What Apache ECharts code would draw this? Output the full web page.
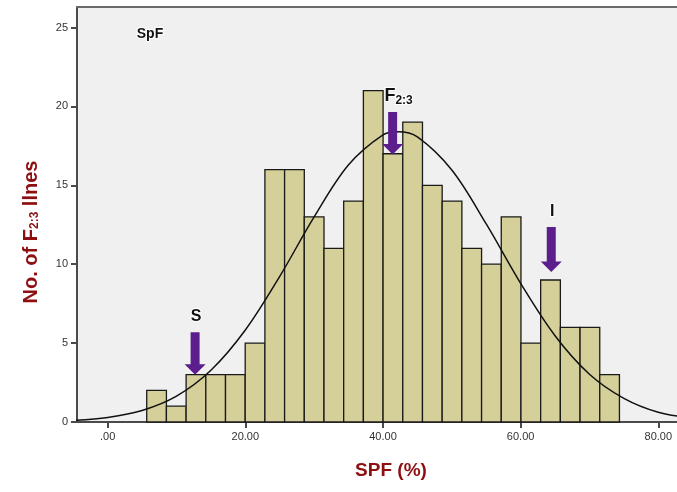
<!DOCTYPE html>
<html>
<head>
<meta charset="utf-8">
<script src="https://cdn.jsdelivr.net/npm/echarts@6/dist/echarts.min.js"></script>
<style>
  html, body { margin: 0; padding: 0; background: #fff; }
  #chart { width: 677px; height: 492px; }
</style>
</head>
<body>
<div id="chart"></div>
<script>
// histogram bins (SPF %)
const binStart = 5.67;
const binWidth = 2.862;
const counts = [2, 1, 3, 3, 3, 5, 16, 16, 13, 11, 14, 21, 17, 19, 15, 14, 11, 10, 13, 5, 9, 6, 6, 3];

// normal curve
const curveX = [-5, 0, 5, 10, 15, 20, 25, 30, 35, 40, 42.2, 45, 50, 55, 60, 65, 70, 75, 80, 85];
const curveY = [0.1, 0.29, 0.73, 1.64, 3.28, 5.83, 9.23, 13.0, 16.3, 18.2, 18.4, 18.07, 15.97, 12.55, 8.79, 5.47, 3.03, 1.5, 0.62, 0.25];

const xTicks = [0, 20, 40, 60, 80];
const yTicks = [0, 5, 10, 15, 20, 25];

// arrows: x, top of shaft, tip, label
const arrowX = [12.7, 41.4, 64.45];
const arrowTop = [5.69, 19.64, 12.35];
const arrowTip = [3.0, 16.95, 9.5];
const arrowLabels = ['{m|S}', '{f|F}{sub|2:3}', '{m|I}'];

const purple = '#5c1d8d';
const darkRed = '#8e0f12';
const font = 'Arial, "Liberation Sans", sans-serif';

const bars = counts.map((c, i) => [binStart + i * binWidth, binStart + (i + 1) * binWidth, c]);
const curve = curveX.map((x, i) => [x, curveY[i]]);
const arrows = arrowX.map((x, i) => [x, arrowTop[i], arrowTip[i], i]);

const halo = { stroke: '#fff', lineWidth: 2 };

const chart = echarts.init(document.getElementById('chart'));

chart.setOption({
  animation: false,
  backgroundColor: '#fff',
  grid: {
    left: 77, top: 7, right: 0, bottom: 70,
    show: true, backgroundColor: '#f0f0f0', borderWidth: 0
  },
  xAxis: [{
    type: 'value', min: -4.46, max: 82.72,
    axisLine: { onZero: false, lineStyle: { color: '#4a4a4a', width: 2 } },
    axisTick: { customValues: xTicks, length: 6, lineStyle: { color: '#4a4a4a', width: 2 } },
    axisLabel: {
      customValues: xTicks, margin: 9, color: '#333', fontSize: 11, fontFamily: font,
      formatter: v => v === 0 ? '.00' : v.toFixed(2)
    },
    splitLine: { show: false }
  }, {
    type: 'value', position: 'top', min: -4.46, max: 82.72,
    axisLine: { show: true, onZero: false, lineStyle: { color: '#6a6a6a', width: 2 } },
    axisTick: { show: false }, axisLabel: { show: false }, splitLine: { show: false }
  }],
  yAxis: {
    type: 'value', min: 0, max: 26.3,
    axisLine: { show: true, onZero: false, lineStyle: { color: '#4a4a4a', width: 2 } },
    axisTick: { show: true, customValues: yTicks, length: 6, lineStyle: { color: '#4a4a4a', width: 2 } },
    axisLabel: { customValues: yTicks, margin: 9, color: '#333', fontSize: 11, fontFamily: font },
    splitLine: { show: false }
  },
  graphic: [{
    type: 'text', x: 31, y: 232, rotation: Math.PI / 2,
    style: {
      text: '{t|No. of F}{s|2:3}{t| llnes}',
      align: 'center', verticalAlign: 'middle',
      rich: {
        t: { fontSize: 20, fontWeight: 'bold', fill: darkRed, fontFamily: font },
        s: { fontSize: 12, fontWeight: 'bold', fill: darkRed, fontFamily: font, padding: [8, 0, 0, 0] }
      }
    }
  }, {
    type: 'text', x: 391, y: 471,
    style: {
      text: 'SPF (%)', align: 'center', verticalAlign: 'middle',
      fontSize: 19, fontWeight: 'bold', fill: darkRed, fontFamily: font
    }
  }, {
    type: 'text', x: 150, y: 34,
    style: Object.assign({
      text: 'SpF', align: 'center', verticalAlign: 'middle',
      fontSize: 14, fontWeight: 'bold', fill: '#111', fontFamily: font
    }, halo)
  }],
  series: [{
    type: 'custom',
    data: bars,
    z: 2,
    renderItem: function (params, api) {
      const p0 = api.coord([api.value(0), api.value(2)]);
      const p1 = api.coord([api.value(1), 0]);
      return {
        type: 'rect',
        shape: { x: p0[0], y: p0[1], width: p1[0] - p0[0], height: p1[1] - p0[1] },
        style: { fill: '#d5d09a', stroke: '#1a1a1a', lineWidth: 1.3 }
      };
    }
  }, {
    type: 'line',
    data: curve,
    smooth: 0.35,
    showSymbol: false,
    z: 3,
    lineStyle: { color: '#111', width: 1.5 }
  }, {
    type: 'custom',
    data: arrows,
    z: 4,
    clip: false,
    renderItem: function (params, api) {
      const top = api.coord([api.value(0), api.value(1)]);
      const tip = api.coord([api.value(0), api.value(2)]);
      const cx = top[0];
      const sw = 4.5, hw = 10.5, hh = 10.5;
      const idx = api.value(3);
      return {
        type: 'group',
        children: [{
          type: 'polygon',
          shape: {
            points: [
              [cx - sw, top[1]], [cx + sw, top[1]], [cx + sw, tip[1] - hh],
              [cx + hw, tip[1] - hh], [cx, tip[1]], [cx - hw, tip[1] - hh],
              [cx - sw, tip[1] - hh]
            ]
          },
          style: { fill: purple }
        }, {
          type: 'text',
          x: cx + (idx === 1 ? 6 : 1), y: top[1] - 16,
          style: {
            text: arrowLabels[idx], align: 'center', verticalAlign: 'middle',
            rich: {
              m: Object.assign({ fontSize: 16, fontWeight: 'bold', fill: '#111', fontFamily: font }, halo),
              f: Object.assign({ fontSize: 18, fontWeight: 'bold', fill: '#111', fontFamily: font }, halo),
              sub: Object.assign({ fontSize: 12, fontWeight: 'bold', fill: '#111', fontFamily: font, padding: [10, 0, 0, 0] }, halo)
            }
          }
        }]
      };
    }
  }]
});
</script>
</body>
</html>
